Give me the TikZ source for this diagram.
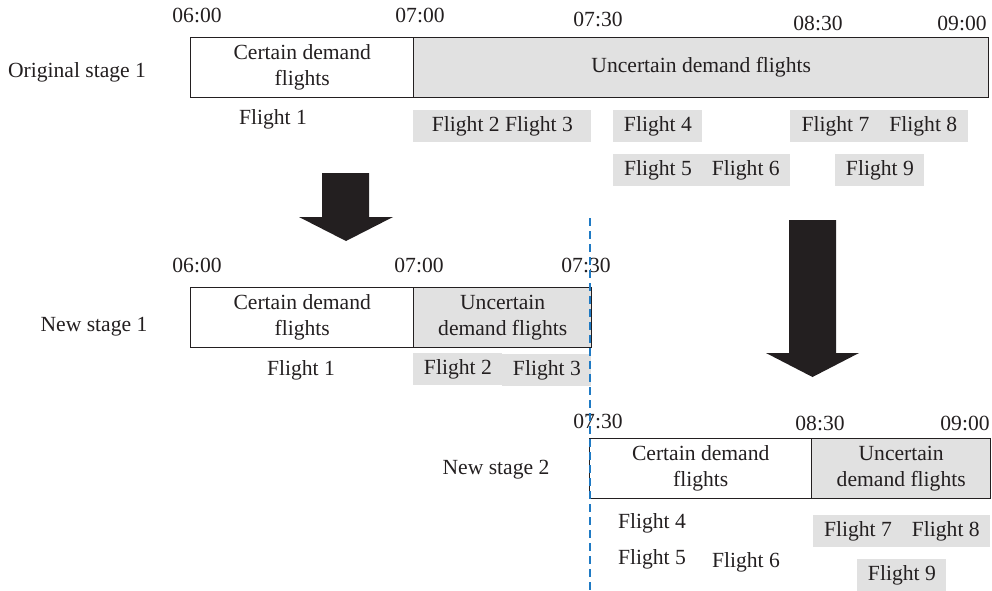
\documentclass[tikz,border=0pt]{standalone}
\usepackage{fontspec}
\setmainfont{Liberation Serif}
\usetikzlibrary{positioning}
\definecolor{StageGray}{HTML}{E1E1E1}
\definecolor{StageInk}{HTML}{231F20}
\definecolor{StageBlue}{HTML}{1F7AC4}
\newcommand{\pxu}{0.5pt}
\newcommand{\stagefont}{\fontsize{10.8}{13}\selectfont}
\tikzset{
  stage/.style={draw=StageInk, line width=0.7pt, align=center, inner sep=0pt,
                minimum height=60*\pxu, anchor=north west,
                font=\stagefont, text=StageInk},
  certain/.style={stage},
  uncertain/.style={stage, fill=StageGray},
  timelabel/.style={font=\stagefont, text=StageInk, inner sep=1pt},
  rowlabel/.style={font=\stagefont, text=StageInk, inner sep=1pt},
  flight/.style={font=\stagefont, text=StageInk, inner sep=1pt},
  flightbar/.style={flight, fill=StageGray, anchor=north west, inner sep=0pt,
                    minimum height=32*\pxu},
  blockarrow/.style={fill=StageInk},
  cut/.style={draw=StageBlue, dashed, dash pattern=on 4pt off 2.5pt,
              line width=0.6pt}
}

\begin{document}
\begin{tikzpicture}[x=\pxu, y=-\pxu]
  \useasboundingbox (0,0) rectangle (992,590);

  % original stage 1
  \node[rowlabel] (orig) at (77,72) {Original stage 1};
  \node[certain, minimum width=223*\pxu] (origcert) at (190,37)
    {Certain demand\\flights};
  \node[uncertain, minimum width=575*\pxu] (origunc) at (413,37)
    {Uncertain demand flights};
  \node[timelabel] (ta) at (197,15) {06:00};
  \node[timelabel] (tb) at (420,15) {07:00};
  \node[timelabel] (tc) at (598,19) {07:30};
  \node[timelabel] (td) at (818,23) {08:30};
  \node[timelabel] (te) at (962,23) {09:00};

  \node[flight] (fa) at (273,119) {Flight 1};
  \node[flightbar, minimum width=178*\pxu] (fbc) at (413,110)
    {Flight 2 Flight 3};
  \node[flightbar, minimum width=89*\pxu] (fd) at (613,110) {Flight 4};
  \node[flightbar, minimum width=177*\pxu] (fef) at (613,154)
    {Flight 5\hspace{10pt}Flight 6};
  \node[flightbar, minimum width=178*\pxu] (fgh) at (790,110)
    {Flight 7\hspace{10pt}Flight 8};
  \node[flightbar, minimum width=89*\pxu] (fi) at (835,154) {Flight 9};

  % new stage 1
  \node[rowlabel] (newa) at (94,327) {New stage 1};
  \node[certain, minimum width=223*\pxu] (newacert) at (190,287)
    {Certain demand\\flights};
  \node[uncertain, minimum width=178*\pxu] (newaunc) at (413,287)
    {Uncertain\\demand flights};
  \node[timelabel] (sa) at (197,265) {06:00};
  \node[timelabel] (sb) at (419,265) {07:00};
  \node[timelabel] (sc) at (586,265) {07:30};

  \node[flight] (ga) at (301,370) {Flight 1};
  \node[flightbar, minimum width=89*\pxu] (gb) at (413,353) {Flight 2};
  \node[flightbar, minimum width=89*\pxu] (gc) at (502,354) {Flight 3};

  % new stage 2
  \node[rowlabel] (newb) at (496,470) {New stage 2};
  \node[certain, minimum width=222*\pxu] (newbcert) at (589,438)
    {Certain demand\\flights};
  \node[uncertain, minimum width=179*\pxu] (newbunc) at (811,438)
    {Uncertain\\demand flights};
  \node[timelabel] (ua) at (598,421) {07:30};
  \node[timelabel] (ub) at (820,423) {08:30};
  \node[timelabel] (uc) at (965,423) {09:00};

  \node[flight] (hd) at (652,523) {Flight 4};
  \node[flight] (he) at (652,559) {Flight 5};
  \node[flight] (hf) at (746,562) {Flight 6};
  \node[flightbar, minimum width=177*\pxu] (hgh) at (813,515)
    {Flight 7\hspace{10pt}Flight 8};
  \node[flightbar, minimum width=89*\pxu] (hi) at (857,559) {Flight 9};

  % splitting arrows and the cut at 07:30
  \fill[blockarrow] (322,173) -- (369,173) -- (369,217) -- (393,217)
    -- (346,241) -- (299,217) -- (322,217) -- cycle;
  \fill[blockarrow] (789,220) -- (836,220) -- (836,353) -- (859,353)
    -- (812.5,377) -- (766,353) -- (789,353) -- cycle;

  \coordinate (cuttop) at (590,218);
  \coordinate (cutbot) at (590,590);
  \draw[cut] (cuttop) -- (cutbot);
\end{tikzpicture}
\end{document}
